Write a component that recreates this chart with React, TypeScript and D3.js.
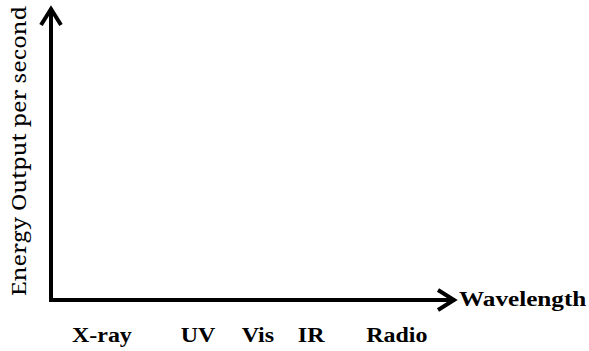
import React from "react";
import * as d3 from "d3";

const categories = ["X-ray", "UV", "Vis", "IR", "Radio"];
const categoryLogWavelength = [1.26, 3.64, 5.12, 6.44, 8.56];
const xAxisTitle = "Wavelength";
const yAxisTitle = "Energy Output per second";

const W = 589;
const H = 351;

export default function App() {
  const x = d3.scaleLinear().domain([0, 10]).range([51, 455]);
  const y = d3.scaleLinear().domain([0, 10]).range([300, 8]);
  const x0 = x(0), y0 = y(0);
  const xEnd = x(10), yEnd = y(10);
  const line = d3.line();
  const axisPath = line([[x0, yEnd], [x0, y0], [xEnd, y0]]);
  const upArrow = line([[x0 - 10, yEnd + 17], [x0, yEnd + 1], [x0 + 10, yEnd + 17]]);
  const rightArrow = line([[xEnd - 17, y0 - 10], [xEnd - 1, y0], [xEnd - 17, y0 + 10]]);
  return (
    <svg width={W} height={H} style={{ position: "absolute", left: 0, top: 0 }}>
      <rect width={W} height={H} fill="#fff" />
      <path d={axisPath || ""} fill="none" stroke="#000" strokeWidth={4} />
      <path d={upArrow || ""} fill="none" stroke="#000" strokeWidth={4} />
      <path d={rightArrow || ""} fill="none" stroke="#000" strokeWidth={4} />
      <text transform="translate(459,306) scale(1.2,1)"
        style={{ fontFamily: '"Liberation Serif"', fontWeight: "bold", fontSize: 21 }}>{xAxisTitle}</text>
      {categories.map((c, i) => (
        <text key={c} transform={`translate(${x(categoryLogWavelength[i])},342) scale(1.2,1)`}
          textAnchor="middle"
          style={{ fontFamily: '"Liberation Serif"', fontWeight: "bold", fontSize: 20 }}>{c}</text>
      ))}
      <text transform="translate(26,296) rotate(-90)"
        style={{ fontFamily: '"Noto Serif"', fontSize: 20, fontWeight: "normal" }}
        textLength={290} lengthAdjust="spacingAndGlyphs">{yAxisTitle}</text>
    </svg>
  );
}
